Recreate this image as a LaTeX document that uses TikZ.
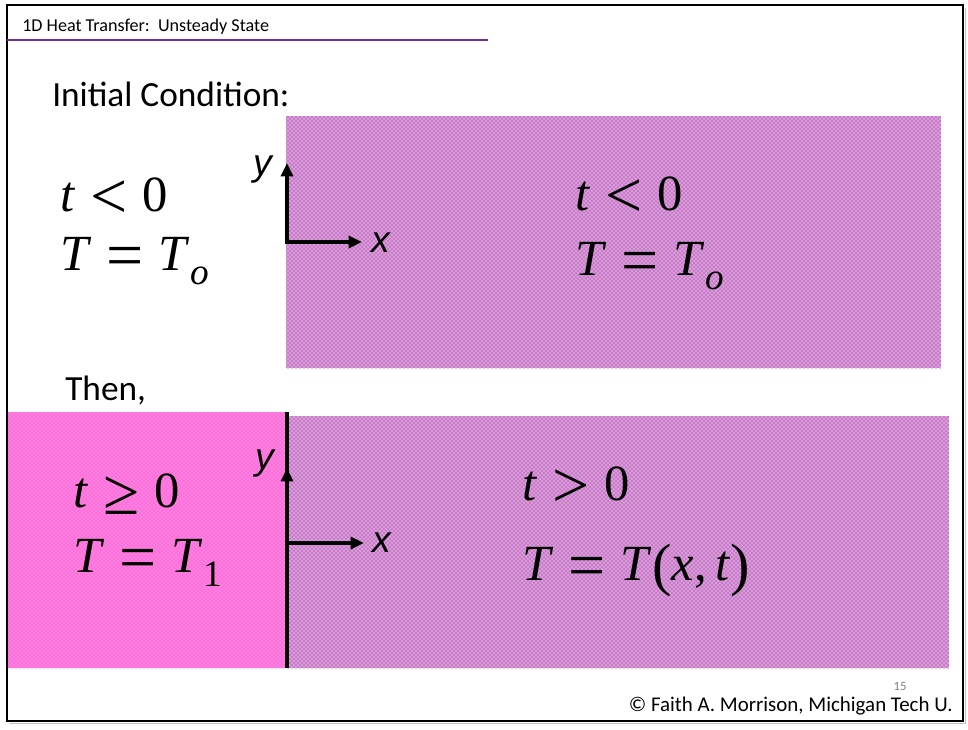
\documentclass[tikz,border=0pt]{standalone}
\usepackage{fontspec}
\setsansfont{Carlito}
\newfontfamily\axisfont{Liberation Sans}
\newfontfamily\eqfont{Liberation Serif}
\usetikzlibrary{arrows.meta,patterns}
\definecolor{hdrline}{HTML}{7030A0}
\definecolor{dotpurple}{HTML}{990099}
\definecolor{wallpink}{HTML}{FF33CC}
\newcommand\vv[1]{\textit{#1}}
\newcommand\lowsub[1]{\raisebox{-11pt}{\fontsize{28}{28}\selectfont #1}}
\newcommand\gap{\hspace{0.3em}}
\newcommand\rel[1]{\gap\raisebox{-0.15em}{\scalebox{1.3}{#1}}\gap}
\newcommand\bigp[1]{\raisebox{-0.08em}{\scalebox{1.15}{#1}}}
\tikzset{
  slabfill/.style={fill=dotpurple!38},
  slabdots/.style={pattern=crosshatch dots, pattern color=dotpurple},
  wallfill/.style={fill=wallpink!62},
  walldots/.style={pattern=crosshatch dots, pattern color=wallpink},
  axis/.style={line width=3pt, -{Triangle[length=10pt,width=9pt]}},
  eq/.style={anchor=base west, inner sep=0pt, font=\eqfont\fontsize{38}{44}\selectfont},
  lbl/.style={anchor=base west, inner sep=0pt, font=\sffamily\fontsize{26.5}{30}\selectfont},
  axlbl/.style={inner sep=0pt, font=\axisfont\itshape\fontsize{28}{30}\selectfont},
  every picture/.style={line cap=butt, line join=miter}
}

\begin{document}
\begin{tikzpicture}[x=0.75pt, y=-0.75pt]
  \useasboundingbox (0,0) rectangle (968,729);
  % slide frame
  \draw[gray!50, line width=1pt] (10,723.5) -- (965.5,723.5) -- (965.5,8);
  \draw[line width=2.2pt] (7,5) rectangle (963,721);
  % header
  \node[anchor=base west, inner sep=0pt, font=\sffamily\fontsize{13.6}{16}\selectfont] (title) at (22,31) {1D Heat Transfer:\ \ Unsteady State};
  \draw[hdrline, line width=2pt] (7,40) -- (488,40);

  % initial condition
  \node[lbl] (init) at (52,106) {Initial Condition:};
  \fill[slabfill] (286,116) rectangle (941,368);
  \fill[slabdots] (286,116) rectangle (941,368);
  \node[eq] (tl1) at (60,211) {\vv{t}\rel{<}0};
  \node[eq] (tl2) at (60,270) {\vv{T}\rel{=}\vv{T}\lowsub{\vv{o}}};
  \node[eq] (tr1) at (575,210) {\vv{t}\rel{<}0};
  \node[eq] (tr2) at (575,275) {\vv{T}\rel{=}\vv{T}\lowsub{\vv{o}}};
  \coordinate (o1) at (287,242);
  \coordinate (y1) at (287,163);
  \coordinate (x1) at (362,242);
  \draw[axis] (o1) -- (y1);
  \draw[axis] ([xshift=-1.5pt]o1) -- (x1);
  \node[axlbl] (ylab1) at (263,170) {y};
  \node[axlbl] (xlab1) at (381,243) {x};

  % then
  \node[lbl] (then) at (65,400) {Then,};
  \fill[wallfill] (8,412) rectangle (287,668);
  \fill[walldots] (8,412) rectangle (287,668);
  \fill[slabfill] (287,416) rectangle (949,668);
  \fill[slabdots] (287,416) rectangle (949,668);
  \node[eq] (bl1) at (73,507) {\vv{t}\rel{≥}0};
  \node[eq] (bl2) at (73,572) {\vv{T}\rel{=}\vv{T}\lowsub{1}};
  \node[eq] (br1) at (522,500) {\vv{t}\rel{>}0};
  \node[eq] (br2) at (522,580) {\vv{T}\rel{=}\vv{T}\bigp{(}\vv{x},\,\vv{t}\bigp{)}};
  \coordinate (wtop) at (287,412);
  \coordinate (wbot) at (287,668);
  \coordinate (o2) at (287,543);
  \coordinate (y2) at (287,468);
  \coordinate (x2) at (364,543);
  \draw[line width=3pt] (wtop) -- (wbot);
  \draw[axis] (o2) -- (y2);
  \draw[axis] (o2) -- (x2);
  \node[axlbl] (ylab2) at (265,464) {y};
  \node[axlbl] (xlab2) at (382,543) {x};

  % footer
  \node[anchor=base, inner sep=0pt, text=gray, font=\sffamily\fontsize{9.5}{10}\selectfont] (pgnum) at (900,690) {15};
  \node[anchor=base east, inner sep=0pt, font=\sffamily\fontsize{15.7}{18}\selectfont] (credit) at (953,711) {\textcopyright{} Faith A. Morrison, Michigan Tech U.};
\end{tikzpicture}
\end{document}
